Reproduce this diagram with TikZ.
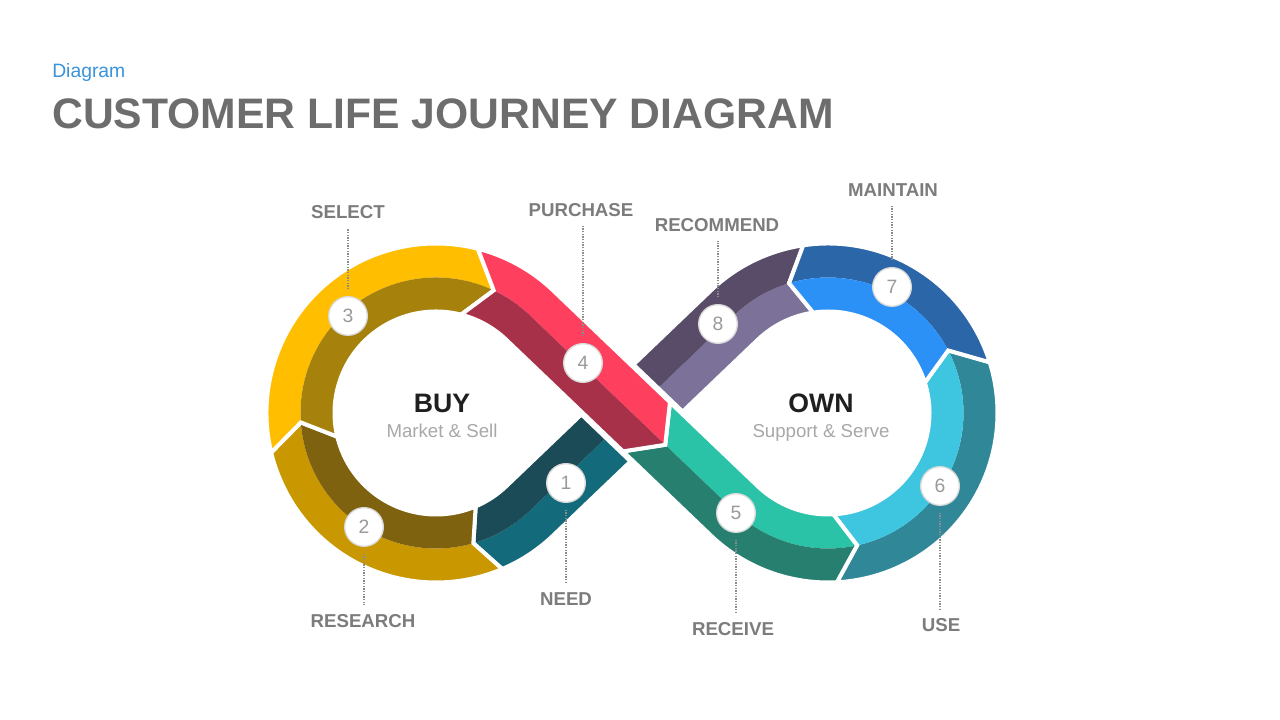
\documentclass[tikz,border=0pt]{standalone}
\usepackage{fontspec}
\setmainfont{Liberation Sans}
\usetikzlibrary{calc}
\definecolor{c1d}{HTML}{1A4B57}\definecolor{c1l}{HTML}{136A7A}
\definecolor{c2l}{HTML}{C99700}\definecolor{c2d}{HTML}{7E6210}
\definecolor{c3l}{HTML}{FFBE00}\definecolor{c3d}{HTML}{A6820C}
\definecolor{c4l}{HTML}{FF3F5E}\definecolor{c4d}{HTML}{A8314A}
\definecolor{c5l}{HTML}{2BC3A8}\definecolor{c5d}{HTML}{27806F}
\definecolor{c6l}{HTML}{3EC5E0}\definecolor{c6d}{HTML}{2F8798}
\definecolor{c7l}{HTML}{2B91F7}\definecolor{c7d}{HTML}{2B66A8}
\definecolor{c8l}{HTML}{7C7199}\definecolor{c8d}{HTML}{584C68}
\definecolor{titlegray}{HTML}{6D6D6D}
\definecolor{lblgray}{HTML}{7C7C7C}
\definecolor{subgray}{HTML}{A8A8A8}
\definecolor{numgray}{HTML}{9A9A9A}
\definecolor{diagblue}{HTML}{3A93DB}
\def\Rout{169.5}\def\Rmid{135.5}\def\Rin{101.5}\def\hw{34}
\newcommand\RingSeg[7]{%
 \fill[#6] ($(#1)+(#2:\Rout)$) arc[start angle=#2,end angle=#4,radius=\Rout] -- ($(#1)+(#5:\Rmid)$) arc[start angle=#5,end angle=#3,radius=\Rmid] -- cycle;
 \fill[#7] ($(#1)+(#2:\Rin)$) arc[start angle=#2,end angle=#4,radius=\Rin] -- ($(#1)+(#5:\Rmid)$) arc[start angle=#5,end angle=#3,radius=\Rmid] -- cycle;
 \draw[wline] ($(#1)+(#2:\Rout)$) arc[start angle=#2,end angle=#4,radius=\Rout] -- ($(#1)+(#5:\Rmid)$) -- ($(#1)+(#4:\Rin)$) arc[start angle=#4,end angle=#2,radius=\Rin] -- ($(#1)+(#3:\Rmid)$) -- cycle;
}
\begin{document}
\begin{tikzpicture}[x=0.75pt,y=0.75pt,
  wline/.style={draw=white,line width=3pt},
  numc/.style={circle,fill=white,draw=black!15,line width=1pt,minimum size=29pt,inner sep=0pt,font=\fontsize{14.5}{14.5}\selectfont,text=numgray},
  lbl/.style={font=\bfseries\fontsize{14}{14}\selectfont,text=lblgray,inner sep=2pt},
  lead/.style={draw=black!45,dash pattern=on 0.9pt off 1.1pt,line width=0.9pt,shorten <=5pt,shorten >=5pt}]
\useasboundingbox (0,0) rectangle (1280,720);
\fill[white] (0,0) rectangle (1280,720);
\coordinate (L) at (436,307);
\coordinate (R) at (828,307);
\coordinate (M) at (632,307);
% red line frame
\begin{scope}[shift={(M)},rotate=-43.73]
 \coordinate (r4u) at (-141.6,\hw); \coordinate (r4c) at (-141.6,0); \coordinate (r4l) at (-141.6,-\hw);
 \coordinate (a4u) at (20,\hw); \coordinate (a4c) at (46,0); \coordinate (a4l) at (20,-\hw);
 \coordinate (r5u) at (141.6,\hw); \coordinate (r5c) at (141.6,0); \coordinate (r5l) at (141.6,-\hw);
\end{scope}
% 8/1 line frame
\begin{scope}[shift={(M)},rotate=-136.27]
 \coordinate (q8u) at (-141.6,\hw); \coordinate (q8c) at (-141.6,0); \coordinate (q8l) at (-141.6,-\hw);
 \coordinate (q0u) at (0,\hw); \coordinate (q0c) at (0,0); \coordinate (q0l) at (0,-\hw);
 \coordinate (q1u) at (141.6,\hw); \coordinate (q1c) at (141.6,0); \coordinate (q1l) at (141.6,-\hw);
\end{scope}
% segment 8
\fill[c8l] ($(R)+(98.4:\Rin)$) arc[start angle=98.4,end angle=133.73,radius=\Rin] -- (q0u) -- (q0c) -- (q8c) arc[start angle=133.73,end angle=106.7,radius=\Rmid] -- cycle;
\fill[c8d] ($(R)+(98.4:\Rout)$) arc[start angle=98.4,end angle=133.73,radius=\Rout] -- (q0l) -- (q0c) -- (q8c) arc[start angle=133.73,end angle=106.7,radius=\Rmid] -- cycle;
\draw[wline] ($(R)+(98.4:\Rout)$) arc[start angle=98.4,end angle=133.73,radius=\Rout] -- (q0l) -- (q0u) -- (q8u) arc[start angle=133.73,end angle=98.4,radius=\Rin] -- ($(R)+(106.7:\Rmid)$) -- cycle;
% segment 1
\fill[c1l] (q0u) -- (q1u) arc[start angle=-46.27,end angle=-67,radius=\Rout] -- ($(L)+(-74:\Rmid)$) arc[start angle=-74,end angle=-46.27,radius=\Rmid] -- (q0c) -- cycle;
\fill[c1d] (q0l) -- (q1l) arc[start angle=-46.27,end angle=-67,radius=\Rin] -- ($(L)+(-74:\Rmid)$) arc[start angle=-74,end angle=-46.27,radius=\Rmid] -- (q0c) -- cycle;
\draw[wline] (q0u) -- (q1u) arc[start angle=-46.27,end angle=-67,radius=\Rout] -- ($(L)+(-74:\Rmid)$) -- ($(L)+(-67:\Rin)$) arc[start angle=-67,end angle=-46.27,radius=\Rin] -- (q0l) -- cycle;
% gap under the crossing band
\begin{scope}[shift={(M)},rotate=-43.73]
 \fill[white] (-60,-38) rectangle (60,38);
\end{scope}
% ring segments
\RingSeg{L}{-67}{-74}{-166.5}{-176}{c2l}{c2d}
\RingSeg{L}{-166.5}{-176}{-284.3}{-295.2}{c3l}{c3d}
\RingSeg{R}{-87}{-77.6}{17.4}{27.5}{c6d}{c6l}
\RingSeg{R}{17.4}{27.5}{98.4}{106.7}{c7d}{c7l}
% segment 5
\fill[c5l] (a4u) -- (r5u) arc[start angle=-133.73,end angle=-87,radius=\Rin] -- ($(R)+(-77.6:\Rmid)$) arc[start angle=-77.6,end angle=-133.73,radius=\Rmid] -- (a4c) -- cycle;
\fill[c5d] (a4l) -- (r5l) arc[start angle=-133.73,end angle=-87,radius=\Rout] -- ($(R)+(-77.6:\Rmid)$) arc[start angle=-77.6,end angle=-133.73,radius=\Rmid] -- (a4c) -- cycle;
\draw[wline] (a4u) -- (r5u) arc[start angle=-133.73,end angle=-87,radius=\Rin] -- ($(R)+(-77.6:\Rmid)$) -- ($(R)+(-87:\Rout)$) arc[start angle=-87,end angle=-133.73,radius=\Rout] -- (a4l) -- (a4c) -- cycle;
% segment 4
\fill[c4l] ($(L)+(75.7:\Rout)$) arc[start angle=75.7,end angle=46.27,radius=\Rout] -- (a4u) -- (a4c) -- (r4c) arc[start angle=46.27,end angle=64.8,radius=\Rmid] -- cycle;
\fill[c4d] ($(L)+(75.7:\Rin)$) arc[start angle=75.7,end angle=46.27,radius=\Rin] -- (a4l) -- (a4c) -- (r4c) arc[start angle=46.27,end angle=64.8,radius=\Rmid] -- cycle;
\draw[wline] ($(L)+(75.7:\Rout)$) arc[start angle=75.7,end angle=46.27,radius=\Rout] -- (a4u) -- (a4c) -- (a4l) -- (r4l) arc[start angle=46.27,end angle=75.7,radius=\Rin] -- ($(L)+(64.8:\Rmid)$) -- cycle;
% titles
\node[anchor=base west,inner sep=0pt,font=\fontsize{14.5}{14.5}\selectfont,text=diagblue] (sub) at (52,642) {Diagram};
\node[anchor=base west,inner sep=0pt,font=\bfseries\fontsize{32}{32}\selectfont,text=titlegray] (title) at (52,591) {CUSTOMER LIFE JOURNEY DIAGRAM};
% centre texts
\node[anchor=base,inner sep=0pt,font=\bfseries\fontsize{20}{20}\selectfont,text=black!88] (buy) at (442,307.5) {BUY};
\node[anchor=base,inner sep=0pt,font=\fontsize{14}{14}\selectfont,text=subgray] (buys) at (442,282.5) {Market \& Sell};
\node[anchor=base,inner sep=0pt,font=\bfseries\fontsize{20}{20}\selectfont,text=black!88] (own) at (821,307.5) {OWN};
\node[anchor=base,inner sep=0pt,font=\fontsize{14}{14}\selectfont,text=subgray] (owns) at (821,282.5) {Support \& Serve};
% number circles
\node[numc] (c1) at (566,237) {1};
\node[numc] (c2) at (364,193) {2};
\node[numc] (c3) at (348,404) {3};
\node[numc] (c4) at (583,357) {4};
\node[numc] (c5) at (736,207) {5};
\node[numc] (c6) at (940,234) {6};
\node[numc] (c7) at (892,433) {7};
\node[numc] (c8) at (718,396) {8};
% labels
\node[lbl] (t1) at (566,121) {NEED};
\node[lbl] (t2) at (363,99) {RESEARCH};
\node[lbl] (t3) at (348,508) {SELECT};
\node[lbl] (t4) at (581,510) {PURCHASE};
\node[lbl] (t5) at (733,91) {RECEIVE};
\node[lbl] (t6) at (941,95) {USE};
\node[lbl] (t7) at (893,530) {MAINTAIN};
\node[lbl] (t8) at (717,495) {RECOMMEND};
% leaders
\draw[lead] (c1.south) -- (c1.south |- t1.north);
\draw[lead] (c2.south) -- (c2.south |- t2.north);
\draw[lead] (c5.south) -- (c5.south |- t5.north);
\draw[lead] (c6.south) -- (c6.south |- t6.north);
\draw[lead] (c3.north) -- (c3.north |- t3.south);
\draw[lead] (c4.north) -- (c4.north |- t4.south);
\draw[lead] (c7.north) -- (c7.north |- t7.south);
\draw[lead] (c8.north) -- (c8.north |- t8.south);
\end{tikzpicture}
\end{document}
